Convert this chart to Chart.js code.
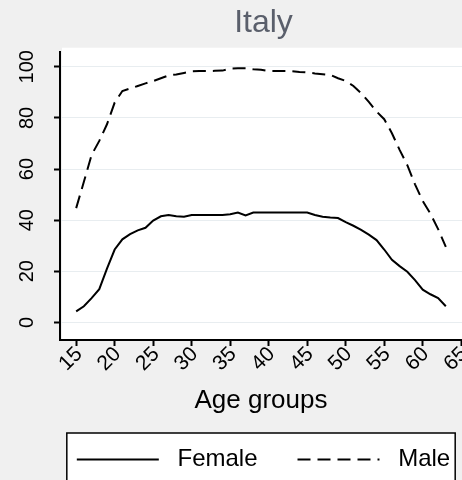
<!DOCTYPE html>
<html><head><meta charset="utf-8">
<script src="https://cdn.jsdelivr.net/npm/chart.js@4.4.1/dist/chart.umd.min.js"></script>
<style>
html,body{margin:0;padding:0;overflow:hidden;background:#f0f0f0;width:462px;height:480px}
#wrap{width:524px;height:490px;position:relative}
canvas{display:block}
</style></head><body><div id="wrap"><canvas id="c" width="524" height="490"></canvas></div>
<script>
const ages = [15,16,17,18,19,20,21,22,23,24,25,26,27,28,29,30,31,32,33,34,35,36,37,38,39,40,41,42,43,44,45,46,47,48,49,50,51,52,53,54,55,56,57,58,59,60,61,62,63];
const female = [4.3,6.3,9.5,13,21,28.5,32.5,34.5,36,37,39.8,41.5,42,41.5,41.3,42,42,42,42,42,42.3,43,41.8,43,43,43,43,43,43,43,43,42,41.3,41,40.8,39.2,37.8,36.2,34.3,32.2,28.5,24.5,22,19.8,16.5,12.8,11,9.5,6.3];
const male = [44.7,55,65.5,71,77.5,86,90.5,91.5,92.5,93.5,94.4,95.5,96.6,97,97.6,98.2,98.3,98.3,98.4,98.5,99.3,99.4,99.4,99,98.8,98.3,98.3,98.3,98.3,98,97.8,97.4,97.1,96.8,95.5,94.5,92.5,89.7,86.3,82.5,79.5,74,67.5,61.5,54,47.5,42.5,36.5,29.5];
const xTickValues = [15,20,25,30,35,40,45,50,55,60,65];
const yTickValues = [0,20,40,60,80,100];
const seriesNames = ['Female','Male'];
const titleText = 'Italy';
const xTitle = 'Age groups';

const FONT = "'Liberation Sans', Arial, sans-serif";

function legendFrame(chart) {
  const lg = chart.legend;
  if (!lg || !lg.legendHitBoxes || !lg.legendHitBoxes.length) return null;
  const hb = lg.legendHitBoxes;
  const last = hb[hb.length - 1];
  const l = hb[0].left - 10, r = last.left + last.width + 5;
  const cy = hb[0].top + hb[0].height / 2;
  return {l, r, t: cy - 26.5, h: 54};
}

const bgPlugin = {
  id: 'bg',
  beforeDraw(chart) {
    const {ctx, chartArea: a} = chart;
    ctx.save();
    ctx.fillStyle = '#f0f0f0';
    ctx.fillRect(0, 0, chart.width, chart.height);
    ctx.fillStyle = '#ffffff';
    ctx.fillRect(a.left + 2, a.top - 4, a.right - a.left + 80, a.bottom - a.top + 4);
    const f = legendFrame(chart);
    if (f) ctx.fillRect(f.l, f.t, f.r - f.l, f.h);
    ctx.restore();
  },
  afterDraw(chart) {
    const {ctx} = chart;
    const f = legendFrame(chart);
    if (!f) return;
    ctx.save();
    ctx.strokeStyle = '#000';
    ctx.lineWidth = 1.5;
    ctx.strokeRect(f.l, f.t, f.r - f.l, f.h);
    ctx.restore();
  }
};

new Chart(document.getElementById('c'), {
  type: 'line',
  data: {
    datasets: [
      { label: seriesNames[0], data: ages.map((a, i) => ({x: a, y: female[i]})),
        borderColor: '#000', borderWidth: 2, pointRadius: 0, tension: 0, fill: false },
      { label: seriesNames[1], data: ages.map((a, i) => ({x: a, y: male[i]})),
        borderColor: '#000', borderWidth: 2, borderDash: [13, 7], pointRadius: 0, tension: 0, fill: false }
    ]
  },
  options: {
    responsive: false,
    animation: false,
    devicePixelRatio: 1,
    layout: { padding: { left: 3, right: 0, top: 0, bottom: 8.5 } },
    plugins: {
      title: { display: true, text: titleText, color: '#5a5f6b',
        font: { family: FONT, size: 32, weight: 'normal', lineHeight: 1.2 },
        padding: { top: 4.3, bottom: 9 } },
      legend: { position: 'bottom',
        labels: { usePointStyle: true, pointStyle: 'line', pointStyleWidth: 82, boxHeight: 24,
          padding: 40, color: '#000',
          font: { family: FONT, size: 24 },
          generateLabels(chart) {
            const items = Chart.defaults.plugins.legend.labels.generateLabels(chart);
            items.forEach(it => {
              const ds = chart.data.datasets[it.datasetIndex];
              it.text = ' ' + it.text;
              it.lineWidth = 2;
              it.strokeStyle = '#000';
              it.lineDash = ds.borderDash || [];
            });
            return items;
          } } },
      tooltip: { enabled: false }
    },
    scales: {
      x: { type: 'linear', min: 12.9, max: 65.1,
        afterBuildTicks(s) { s.ticks = xTickValues.map(v => ({value: v})); },
        afterFit(s) { s.height = 67.5; s.paddingRight = 62; },
        border: { color: '#000', width: 2 },
        grid: { drawOnChartArea: false, tickLength: 6, tickWidth: 2, tickColor: '#000' },
        ticks: { minRotation: 45, maxRotation: 45, autoSkip: false, padding: -4, labelOffset: 3,
          color: '#000', font: { family: FONT, size: 21 }, callback: v => String(v) },
        title: { display: true, text: xTitle, color: '#000',
          font: { family: FONT, size: 26 }, padding: { top: 0, bottom: -9 } } },
      y: { type: 'linear', min: -6.9, max: 105.9,
        afterBuildTicks(s) { s.ticks = yTickValues.map(v => ({value: v})); },
        afterFit(s) { s.width = 57; },
        border: { color: '#000', width: 2 },
        grid: { color: '#e8edf0', lineWidth: 1, tickLength: 6, tickWidth: 2, tickColor: '#000' },
        ticks: { minRotation: 90, maxRotation: 90, crossAlign: 'center', padding: 10,
          color: '#000', font: { family: FONT, size: 20 }, callback: v => String(v) } }
    }
  },
  plugins: [bgPlugin]
});
</script></body></html>
